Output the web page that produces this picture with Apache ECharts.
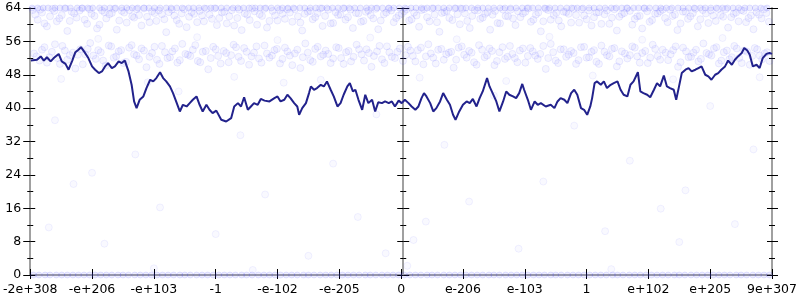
<!DOCTYPE html>
<html><head><meta charset="utf-8">
<script src="https://cdn.jsdelivr.net/npm/echarts@6/dist/echarts.min.js"></script>
<style>html,body{margin:0;padding:0;background:#fff}#c{width:800px;height:300px}</style>
</head><body><div id="c"></div>
<script>
// tick labels on the x axis (positions -6..6)
const xTickLabels = ['-2e+308','-e+206','-e+103','-1','-e-102','-e-205','0','e-206','e-103','1','e+102','e+205','9e+307'];

// dark line (x in tick units, y value)
const lineX = [-5.99,-5.89,-5.83,-5.78,-5.73,-5.67,-5.62,-5.54,-5.49,-5.43,-5.38,-5.32,-5.27,-5.22,-5.18,-5.13,-5.06,-5.00,-4.95,-4.89,-4.84,-4.79,-4.74,-4.68,-4.63,-4.57,-4.52,-4.47,-4.41,-4.36,-4.32,-4.28,-4.23,-4.17,-4.12,-4.06,-4.01,-3.96,-3.90,-3.85,-3.80,-3.74,-3.69,-3.64,-3.58,-3.53,-3.47,-3.42,-3.37,-3.31,-3.26,-3.21,-3.15,-3.10,-3.05,-2.99,
-2.91,-2.83,-2.75,-2.70,-2.64,-2.59,-2.54,-2.48,-2.43,-2.38,-2.32,-2.27,-2.21,-2.13,-2.05,-2.00,-1.95,-1.89,-1.84,-1.79,-1.73,-1.68,-1.65,-1.60,-1.54,-1.49,-1.46,-1.41,-1.36,-1.30,-1.25,-1.20,-1.14,-1.09,-1.03,-0.98,-0.93,-0.87,-0.83,-0.78,-0.74,-0.69,-0.63,-0.58,-0.53,-0.47,-0.42,-0.37,-0.31,-0.26,-0.20,-0.15,-0.10,-0.04,0.01,
0.06,0.12,0.17,0.23,0.28,0.33,0.37,0.41,0.47,0.52,0.57,0.63,0.68,0.74,0.79,0.84,0.88,0.94,1.00,1.06,1.11,1.16,1.22,1.27,1.32,1.39,1.43,1.48,1.54,1.59,1.65,1.70,1.75,1.81,1.86,1.91,1.96,1.99,2.05,2.10,2.16,2.21,2.26,2.34,2.42,2.48,2.53,2.58,2.64,2.69,2.75,2.80,2.85,2.91,2.96,3.01,
3.06,3.09,3.13,3.17,3.23,3.28,3.33,3.39,3.44,3.50,3.55,3.60,3.66,3.71,3.76,3.83,3.87,3.92,3.98,4.03,4.09,4.14,4.19,4.25,4.30,4.35,4.41,4.45,4.49,4.54,4.60,4.65,4.70,4.76,4.81,4.86,4.92,4.97,5.02,5.08,5.13,5.18,5.24,5.29,5.35,5.40,5.45,5.51,5.55,5.60,5.64,5.69,5.75,5.80,5.85,5.91,5.96,6.00];
const lineY = [51.4,51.6,52.4,51.4,52.2,51.2,52.0,53.0,51.2,50.6,49.2,51.4,53.4,54.0,54.6,53.6,52.0,50.0,49.2,48.4,48.8,50.0,50.8,49.6,50.0,51.2,50.8,51.4,48.8,45.6,41.6,40.0,42.0,42.8,44.8,46.8,46.4,47.2,48.6,47.2,46.4,45.2,43.6,41.6,39.2,40.8,40.4,41.2,42.0,42.8,40.8,39.2,40.8,39.6,38.8,39.4,
37.2,36.8,37.6,40.4,41.2,40.4,42.6,39.6,40.4,41.2,40.8,42.2,41.8,41.6,42.4,42.8,41.6,42.0,43.2,42.4,41.2,40.4,38.4,40.0,41.2,43.6,45.2,44.4,44.8,45.6,45.2,46.4,44.4,42.8,40.4,41.2,43.2,45.2,46.0,44.0,44.4,42.0,39.6,43.2,41.2,42.0,39.2,41.4,41.2,41.6,41.2,41.6,40.4,41.8,41.2,
42.0,41.2,40.4,39.6,40.4,42.4,43.6,42.8,41.2,39.2,40.0,41.6,43.6,42.0,40.8,38.4,37.2,39.2,40.8,41.6,41.2,42.2,40.4,42.4,44.0,47.2,45.2,43.6,41.6,39.2,41.6,44.0,43.2,42.8,42.4,43.6,45.8,44.4,42.0,39.6,41.6,40.8,41.2,40.4,40.8,40.0,41.6,42.4,42.0,41.2,43.6,44.4,43.2,40.0,39.6,38.4,
40.4,42.4,46.0,46.4,45.6,46.4,44.8,45.6,46.0,46.4,44.4,43.2,42.8,45.6,46.4,48.6,44.0,43.6,43.2,42.6,44.4,46.0,45.2,47.8,45.2,44.8,44.4,42.0,44.8,48.4,49.2,49.6,48.8,49.2,49.6,50.0,48.0,47.6,46.8,48.0,48.4,49.2,50.0,51.4,50.4,51.6,52.4,53.2,54.4,53.8,52.8,50.0,50.4,49.6,52.0,53.0,53.2,53.0];

// faint scatter points
const topBand = [[-5.96,63.5],[-5.88,61.2],[-5.81,62.9],[-5.73,59.6],[-5.64,63.8],[-5.57,60.8],[-5.49,62.3],[-5.40,58.5],[-5.33,63.1],[-5.25,61.7],[-5.16,63.9],[-5.08,60.2],[-5.01,62.6],[-4.92,59.1],[-4.84,63.4],[-4.77,61.5],[-4.68,62.8],[-4.60,58.8],[-4.52,63.3],[-4.44,60.5],[-4.35,62.0],[-4.28,63.7],[-4.20,59.8],[-4.11,61.9],[-4.03,63.2],[-3.96,60.9],[-3.87,62.5],[-3.80,58.2],[-3.71,63.6],[-3.63,61.1],[-3.55,62.7],[-3.47,59.4],[-3.39,63.0],[-3.30,60.6],[-3.22,62.2],[-3.15,63.8],[-3.06,61.4],[-2.98,59.9],[-2.90,62.9],[-2.82,60.3],[-2.74,63.5],[-2.65,61.6],[-2.58,58.7],[-2.49,62.4],[-2.41,63.9],[-2.33,60.0],[-2.25,62.1],[-2.17,59.3],[-2.08,63.3],[-2.00,61.0],[-1.92,62.6],[-1.84,63.7],[-1.76,60.7],[-1.67,62.0],[-1.60,58.6],[-1.51,63.1],[-1.43,61.3],[-1.35,62.8],[-1.27,59.7],[-1.18,63.6],[-1.10,60.4],[-1.02,62.3],[-0.94,63.9],[-0.86,61.8],[-0.78,59.2],[-0.69,62.7],[-0.61,60.9],[-0.53,63.4],[-0.45,61.5],[-0.37,58.9],[-0.28,62.5],[-0.20,63.8],[-0.12,60.6],[-0.04,62.2],
[0.05,63.2],[0.13,61.0],[0.21,62.9],[0.29,59.5],[0.37,63.7],[0.46,60.8],[0.54,62.4],[0.62,58.3],[0.70,63.0],[0.78,61.6],[0.87,63.9],[0.95,60.1],[1.03,62.7],[1.11,59.2],[1.19,63.5],[1.28,61.4],[1.36,62.6],[1.44,58.8],[1.52,63.3],[1.60,60.3],[1.69,62.1],[1.77,63.6],[1.85,59.9],[1.93,61.8],[2.01,63.1],[2.10,60.7],[2.18,62.4],[2.26,58.4],[2.34,63.8],[2.42,61.2],[2.51,62.8],[2.59,59.6],[2.67,63.0],[2.75,60.5],[2.83,62.3],[2.92,63.7],[3.00,61.3],[3.08,59.8],[3.16,62.9],[3.24,60.2],[3.33,63.4],[3.41,61.7],[3.49,58.6],[3.57,62.5],[3.65,63.9],[3.74,60.0],[3.82,62.0],[3.90,59.1],[3.98,63.2],[4.06,61.1],[4.15,62.7],[4.23,63.6],[4.31,60.6],[4.39,62.1],[4.47,58.7],[4.56,63.1],[4.64,61.4],[4.72,62.8],[4.80,59.6],[4.88,63.5],[4.97,60.4],[5.05,62.2],[5.13,63.8],[5.21,61.9],[5.29,59.3],[5.38,62.6],[5.46,60.8],[5.54,63.3],[5.62,61.6],[5.70,58.9],[5.79,62.4],[5.87,63.7],[5.95,60.7]];
const topBand2 = [[-5.92,62.4],[-5.84,63.6],[-5.77,60.3],[-5.68,62.0],[-5.61,63.3],[-5.53,61.5],[-5.44,63.9],[-5.36,60.9],[-5.29,62.7],[-5.20,63.4],[-5.12,61.2],[-5.04,63.7],[-4.96,62.1],[-4.88,60.0],[-4.80,63.0],[-4.72,62.5],[-4.64,63.8],[-4.56,61.0],[-4.48,62.9],[-4.40,63.5],[-4.32,61.7],[-4.24,62.3],[-4.16,63.9],[-4.07,60.6],[-3.99,62.8],[-3.92,63.4],[-3.83,61.3],[-3.76,63.0],[-3.67,62.2],[-3.59,60.2],[-3.51,63.7],[-3.43,61.9],[-3.35,62.6],[-3.26,63.3],[-3.19,60.8],[-3.10,62.4],[-3.02,63.9],[-2.94,61.6],[-2.86,63.1],[-2.78,62.0],[-2.70,59.8],[-2.62,63.6],[-2.53,62.7],[-2.45,61.1],[-2.37,63.2],[-2.29,62.5],[-2.21,63.8],[-2.13,60.9],[-2.04,62.2],[-1.96,63.5],[-1.88,61.4],[-1.80,62.9],[-1.72,63.7],[-1.63,60.5],[-1.56,62.6],[-1.47,63.3],[-1.39,61.8],[-1.31,63.9],[-1.23,62.1],[-1.14,60.3],[-1.06,63.0],[-0.98,62.4],[-0.90,61.2],[-0.82,63.6],[-0.73,62.8],[-0.65,60.7],[-0.57,63.1],[-0.49,62.3],[-0.41,63.8],[-0.33,61.0],[-0.24,62.9],[-0.16,63.4],[-0.08,61.6],
[0.01,62.6],[0.09,63.7],[0.17,61.3],[0.25,62.2],[0.33,63.5],[0.42,61.8],[0.50,63.9],[0.58,60.6],[0.66,62.8],[0.74,63.3],[0.83,61.1],[0.91,62.5],[0.99,63.8],[1.07,60.9],[1.15,62.1],[1.24,63.4],[1.32,61.7],[1.40,63.0],[1.48,62.4],[1.56,60.4],[1.65,63.6],[1.73,62.0],[1.81,61.5],[1.89,63.2],[1.97,62.7],[2.06,63.9],[2.14,61.2],[2.22,62.9],[2.30,60.8],[2.38,63.5],[2.47,62.3],[2.55,61.0],[2.63,63.1],[2.71,62.6],[2.79,63.8],[2.88,60.5],[2.96,62.2],[3.04,63.4],[3.12,61.8],[3.20,63.0],[3.29,62.5],[3.37,60.2],[3.45,63.7],[3.53,61.9],[3.61,62.8],[3.70,63.3],[3.78,61.4],[3.86,62.1],[3.94,63.9],[4.02,60.7],[4.11,62.6],[4.19,63.2],[4.27,61.6],[4.35,63.6],[4.43,62.4],[4.52,60.3],[4.60,63.1],[4.68,62.0],[4.76,63.8],[4.84,61.3],[4.93,62.7],[5.01,63.4],[5.09,60.9],[5.17,62.3],[5.25,63.7],[5.34,61.8],[5.42,62.9],[5.50,63.5],[5.58,60.6],[5.66,62.2],[5.75,63.0],[5.83,61.5],[5.91,62.8]];
const midBand = [[-5.94,53.1],[-5.85,51.4],[-5.77,54.6],[-5.69,52.2],[-5.60,55.3],[-5.52,50.6],[-5.44,53.8],[-5.36,52.7],[-5.27,49.5],[-5.19,54.1],[-5.11,52.9],[-5.03,55.6],[-4.94,51.8],[-4.86,53.4],[-4.78,50.2],[-4.69,54.8],[-4.61,52.4],[-4.53,53.9],[-4.45,51.1],[-4.36,55.1],[-4.28,52.6],[-4.20,54.3],[-4.12,49.8],[-4.03,53.2],[-3.95,51.6],[-3.87,54.9],[-3.78,52.0],[-3.70,53.6],[-3.62,50.9],[-3.54,55.4],[-3.45,52.8],[-3.37,54.0],[-3.29,51.3],[-3.21,53.5],[-3.12,49.3],[-3.04,54.7],[-2.96,52.5],[-2.87,53.7],[-2.79,51.0],[-2.71,55.2],[-2.63,52.3],[-2.54,54.4],[-2.46,50.4],[-2.38,53.3],[-2.30,51.9],[-2.21,55.0],[-2.13,52.1],[-2.05,53.9],[-1.96,50.7],[-1.88,54.5],[-1.80,52.6],[-1.72,53.1],[-1.63,49.6],[-1.55,55.5],[-1.47,51.5],[-1.39,54.2],[-1.30,52.4],[-1.22,53.8],[-1.14,50.8],[-1.05,54.6],[-0.97,52.0],[-0.89,53.4],[-0.81,51.2],[-0.72,55.2],[-0.64,52.9],[-0.56,54.1],[-0.48,49.9],[-0.39,53.6],[-0.31,51.7],[-0.23,54.8],[-0.15,52.3],[-0.06,53.5],
[0.03,51.3],[0.11,54.7],[0.19,52.5],[0.27,53.9],[0.36,50.5],[0.44,55.3],[0.52,52.1],[0.60,54.0],[0.69,51.6],[0.77,53.3],[0.85,49.7],[0.93,54.5],[1.02,52.8],[1.10,53.7],[1.18,51.0],[1.26,55.1],[1.35,52.2],[1.43,54.3],[1.51,50.3],[1.59,53.4],[1.68,51.8],[1.76,54.9],[1.84,52.0],[1.92,53.8],[2.01,50.9],[2.09,54.4],[2.17,52.6],[2.25,53.0],[2.34,49.4],[2.42,55.4],[2.50,51.4],[2.58,54.1],[2.67,52.3],[2.75,53.7],[2.83,50.6],[2.91,54.6],[3.00,52.1],[3.08,53.5],[3.16,51.1],[3.24,55.0],[3.33,52.7],[3.41,54.2],[3.49,50.0],[3.57,53.6],[3.66,51.9],[3.74,54.8],[3.82,52.4],[3.90,53.2],[3.99,50.8],[4.07,55.2],[4.15,52.5],[4.23,54.0],[4.32,51.5],[4.40,53.9],[4.48,49.9],[4.56,54.5],[4.65,52.2],[4.73,53.3],[4.81,51.2],[4.89,55.5],[4.98,52.9],[5.06,54.3],[5.14,50.7],[5.22,53.4],[5.31,51.7],[5.39,54.9],[5.47,52.0],[5.55,53.8],[5.64,50.4],[5.72,54.4],[5.80,52.6],[5.88,53.1],[5.96,51.3]];
const midBand2 = [[-5.90,52.4],[-5.81,54.0],[-5.73,50.9],[-5.65,53.5],[-5.56,52.0],[-5.48,54.9],[-5.40,51.6],[-5.31,53.3],[-5.23,52.8],[-5.15,50.5],[-5.07,54.2],[-4.98,52.6],[-4.90,53.9],[-4.82,51.4],[-4.73,55.0],[-4.65,52.1],[-4.57,53.6],[-4.49,50.8],[-4.40,54.5],[-4.32,52.9],[-4.24,51.7],[-4.16,53.8],[-4.07,52.3],[-3.99,54.7],[-3.91,50.6],[-3.82,53.4],[-3.74,52.2],[-3.66,54.3],[-3.58,51.5],[-3.49,53.0],[-3.41,52.5],[-3.33,55.1],[-3.25,51.0],[-3.16,53.7],[-3.08,52.0],[-3.00,54.1],[-2.92,50.7],[-2.83,53.2],[-2.75,52.7],[-2.67,54.6],[-2.59,51.3],[-2.50,53.5],[-2.42,52.4],[-2.34,54.8],[-2.26,50.9],[-2.17,53.1],[-2.09,52.6],[-2.01,54.2],[-1.92,51.8],[-1.84,53.6],[-1.76,50.3],[-1.68,54.0],[-1.59,52.2],[-1.51,53.3],[-1.43,51.1],[-1.35,54.7],[-1.26,52.8],[-1.18,53.0],[-1.10,51.9],[-1.01,54.4],[-0.93,50.6],[-0.85,53.7],[-0.77,52.3],[-0.68,54.1],[-0.60,51.4],[-0.52,53.2],[-0.44,52.5],[-0.35,54.9],[-0.27,50.8],[-0.19,53.4],[-0.10,52.0],[-0.02,54.3],
[0.07,52.7],[0.15,53.8],[0.23,51.2],[0.32,54.5],[0.40,52.4],[0.48,53.1],[0.56,50.7],[0.65,54.2],[0.73,52.9],[0.81,53.5],[0.89,51.6],[0.98,54.8],[1.06,52.1],[1.14,53.3],[1.22,50.4],[1.31,54.0],[1.39,52.6],[1.47,53.7],[1.55,51.3],[1.64,54.6],[1.72,52.3],[1.80,53.0],[1.88,51.0],[1.97,54.3],[2.05,52.5],[2.13,53.6],[2.21,51.8],[2.30,54.9],[2.38,52.0],[2.46,53.4],[2.54,50.8],[2.63,54.1],[2.71,52.8],[2.79,53.2],[2.87,51.5],[2.96,54.7],[3.04,52.2],[3.12,53.9],[3.20,50.6],[3.29,53.5],[3.37,52.4],[3.45,54.4],[3.53,51.2],[3.62,53.1],[3.70,52.7],[3.78,54.5],[3.86,50.9],[3.95,53.7],[4.03,52.1],[4.11,54.2],[4.19,51.6],[4.28,53.3],[4.36,52.9],[4.44,54.8],[4.52,51.0],[4.61,53.6],[4.69,52.3],[4.77,54.0],[4.85,51.8],[4.94,53.2],[5.02,52.6],[5.10,54.6],[5.18,51.4],[5.27,53.8],[5.35,52.2],[5.43,54.3],[5.51,50.8],[5.60,53.5],[5.68,52.5],[5.76,54.1],[5.84,51.7],[5.92,53.4]];
const sparsePts = [[-5.7,11.4],[-5.6,37.1],[-5.3,21.8],[-5.0,24.5],[-4.8,7.5],[-4.3,28.9],[-3.9,16.2],[-3.6,44.0],[-3.0,9.8],[-2.6,33.5],[-2.2,19.3],[-1.9,46.1],[-1.5,4.6],[-1.1,26.7],[-0.7,13.9],[-0.4,38.5],[-0.25,5.2],[0.2,8.4],[0.4,12.8],[0.7,31.2],[1.1,17.6],[1.5,43.0],[1.9,6.3],[2.3,22.4],[2.8,35.8],[3.3,10.5],[3.7,27.4],[4.2,15.9],[4.5,7.9],[4.6,20.3],[5.0,40.5],[5.4,12.2],[5.7,30.1],[-4.0,1.6],[0.1,2.2],[3.4,1.4],[-2.4,1.2],
[-5.5,47.0],[-4.9,56.6],[-4.1,46.2],[-3.3,57.0],[-2.7,47.5],[-2.0,56.3],[-1.3,46.8],[-0.5,56.9],[0.3,47.3],[0.9,56.5],[1.7,46.5],[2.4,57.1],[3.1,47.8],[3.9,56.4],[4.4,46.9],[5.2,56.8],[5.8,47.4]];
const topEdgeX = [-5.97,-5.88,-5.79,-5.71,-5.6,-5.52,-5.43,-5.35,-5.24,-5.16,-5.07,-4.99,-4.88,-4.8,-4.71,-4.62,-4.52,-4.44,-4.35,-4.26,-4.16,-4.08,-3.99,-3.9,-3.8,-3.72,-3.63,-3.54,-3.44,-3.36,-3.27,-3.18,-3.08,-3.0,-2.91,-2.82,-2.72,-2.64,-2.55,-2.46,-2.36,-2.28,-2.19,-2.1,-2.0,-1.92,-1.83,-1.74,-1.64,-1.56,-1.47,-1.38,-1.28,-1.2,-1.11,-1.02,-0.92,-0.84,-0.75,-0.66,-0.56,-0.48,-0.39,-0.3,-0.2,-0.12,-0.03,
0.06,0.16,0.24,0.33,0.42,0.52,0.6,0.69,0.78,0.88,0.96,1.05,1.14,1.24,1.32,1.41,1.5,1.6,1.68,1.77,1.86,1.96,2.04,2.13,2.22,2.32,2.4,2.49,2.58,2.68,2.76,2.85,2.94,3.04,3.12,3.21,3.3,3.4,3.48,3.57,3.66,3.76,3.84,3.93,4.02,4.12,4.2,4.29,4.38,4.48,4.56,4.65,4.74,4.84,4.92,5.01,5.1,5.2,5.28,5.37,5.46,5.56,5.64,5.73,5.82,5.92];
const bottomEdgeX = [-5.95,-5.86,-5.76,-5.68,-5.58,-5.49,-5.4,-5.31,-5.22,-5.13,-5.04,-4.95,-4.86,-4.77,-4.68,-4.58,-4.5,-4.41,-4.31,-4.22,-4.13,-4.04,-3.95,-3.86,-3.77,-3.68,-3.58,-3.5,-3.41,-3.31,-3.22,-3.13,-3.04,-2.95,-2.86,-2.77,-2.68,-2.58,-2.5,-2.41,-2.31,-2.22,-2.13,-2.04,-1.95,-1.86,-1.77,-1.68,-1.58,-1.5,-1.41,-1.31,-1.22,-1.13,-1.04,-0.95,-0.86,-0.77,-0.68,-0.58,-0.5,-0.41,-0.31,-0.22,-0.13,-0.04,
0.05,0.14,0.23,0.32,0.42,0.5,0.59,0.69,0.78,0.87,0.96,1.05,1.14,1.23,1.32,1.42,1.5,1.59,1.69,1.78,1.87,1.96,2.05,2.14,2.23,2.32,2.42,2.5,2.59,2.69,2.78,2.87,2.96,3.05,3.14,3.23,3.32,3.42,3.5,3.59,3.69,3.78,3.87,3.96,4.05,4.14,4.23,4.32,4.42,4.5,4.59,4.69,4.78,4.87,4.96,5.05,5.14,5.23,5.32,5.42,5.5,5.59,5.69,5.78,5.87,5.96];

const chart = echarts.init(document.getElementById('c'), null, {renderer:'canvas'});
const font = {fontFamily:'DejaVu Sans', fontSize:12.5, color:'#000'};
const greyLine = {color:'#a0a0a0', width:2};
const tickStyle = {color:'#000', width:1};

function yAx(pos, offset, inside, len, showLine, showLabel){
  return {type:'value', min:0, max:64, interval:8, position:pos, offset:offset,
    axisLine:{show:showLine, onZero:false, lineStyle:greyLine},
    axisTick:{show:true, inside:inside, length:len, lineStyle:tickStyle},
    minorTick:{show:true, splitNumber:2, length:3, lineStyle:tickStyle},
    axisLabel:Object.assign({show:showLabel, margin:9}, font),
    splitLine:{show:false}};
}
function sc(data, size, fillA, borderA){
  return {type:'scatter', data:data, symbolSize:size, silent:true, z:2,
    itemStyle:{color:'rgba(90,90,255,'+fillA+')', borderColor:'rgba(50,50,255,'+borderA+')', borderWidth:1}};
}
const option = {
  animation:false,
  grid:{left:28, right:26, top:8, bottom:25},
  xAxis:[
    {type:'value', min:-6, max:6, interval:1, position:'bottom',
     axisLine:{show:true, onZero:false, lineStyle:greyLine},
     axisTick:{show:true, inside:true, length:6, lineStyle:tickStyle},
     axisLabel:Object.assign({margin:8, formatter:v=>xTickLabels[Math.round(v)+6]}, font),
     splitLine:{show:false}},
    {type:'value', min:-6, max:6, interval:1, position:'bottom',
     axisLine:{show:false}, axisTick:{show:true, inside:false, length:4, lineStyle:tickStyle},
     axisLabel:{show:false}, splitLine:{show:false}}
  ],
  yAxis:[
    yAx('left', 0, false, 7, true, true),
    yAx('left', 0, true, 5, false, false),
    yAx('right', 0, false, 6, true, false),
    yAx('right', 0, true, 5, false, false),
    yAx('left', -373, false, 6, true, false),
    yAx('left', -373, true, 6, false, false)
  ],
  series:[
    sc(topBand, 7, 0.08, 0.11), sc(topBand2, 7, 0.08, 0.11),
    sc(midBand, 7, 0.08, 0.11), sc(midBand2, 7, 0.08, 0.11),
    sc(sparsePts, 7, 0.05, 0.08),
    sc(topEdgeX.map(x=>[x,64]), 6, 0.14, 0.14), sc(bottomEdgeX.map(x=>[x,0]), 6, 0.14, 0.14),
    {type:'line', data:lineX.map((x,i)=>[x,lineY[i]]), showSymbol:false, symbol:'none',
     lineStyle:{color:'#22228c', width:2}, z:5, silent:true}
  ]
};
chart.setOption(option);
</script></body></html>
